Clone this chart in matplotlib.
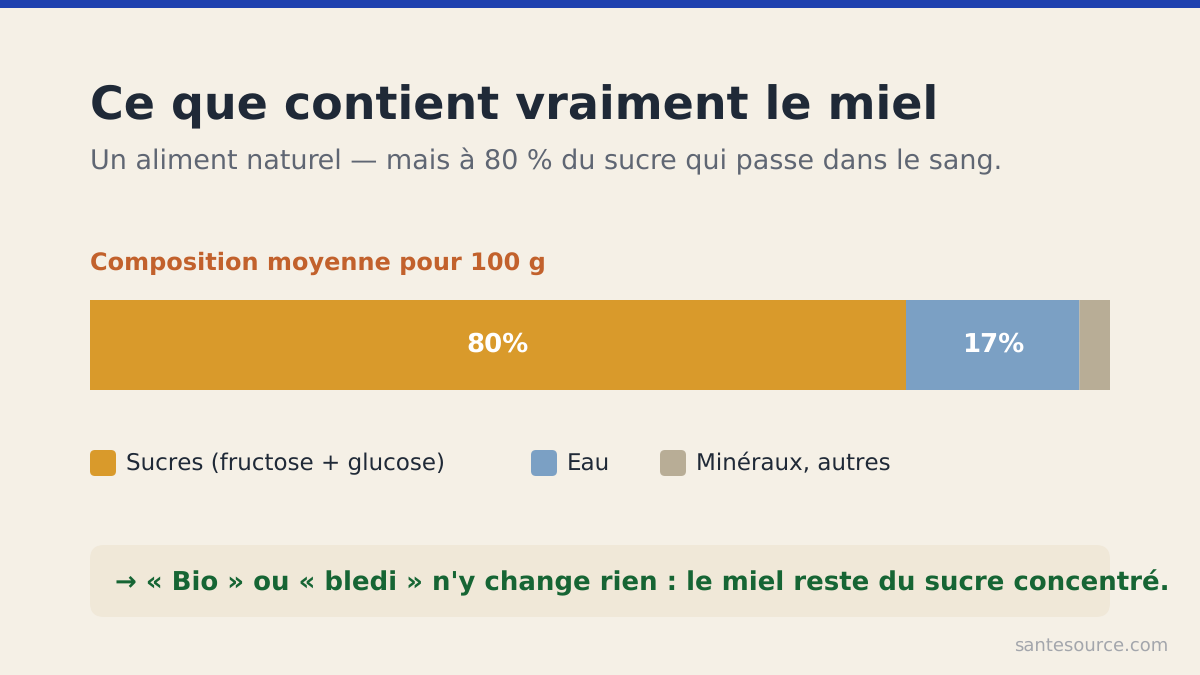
import matplotlib
matplotlib.use("Agg")
import matplotlib.pyplot as plt
from matplotlib.patches import FancyBboxPatch, Rectangle

categories = ["Sucres (fructose + glucose)", "Eau", "Minéraux, autres"]
values = [80, 17, 3]
bar_labels = ["80%", "17%", ""]
colors = ["#D99A2B", "#7BA0C4", "#B8AD96"]
legend_x = [90, 531, 660]

W, H = 1200, 675
plt.rcParams["font.family"] = "DejaVu Sans"
plt.rcParams["text.hinting"] = "no_hinting"
plt.rcParams["text.hinting_factor"] = 1
fig = plt.figure(figsize=(W / 100, H / 100), dpi=100, facecolor="#F5F0E6")

bg = fig.add_axes([0, 0, 1, 1])
bg.set_xlim(0, W)
bg.set_ylim(H, 0)
bg.axis("off")

def px(size):
    return size * 0.72

bg.add_patch(Rectangle((0, 0), W, 8, color="#1E40AF", lw=0))
bg.text(90, 119.5, "Ce que contient vraiment le miel", fontsize=px(46), fontweight="bold",
        color="#1F2937", va="baseline", ha="left")
bg.text(90, 169.5, "Un aliment naturel — mais à 80 % du sucre qui passe dans le sang.",
        fontsize=px(27.02), color="#5F6673", va="baseline", ha="left")
bg.text(90, 270, "Composition moyenne pour 100 g", fontsize=px(24), fontweight="bold",
        color="#C2612C", va="baseline", ha="left")

ax = fig.add_axes([90 / W, 1 - 390 / H, 1020 / W, 90 / H])
ax.set_xlim(0, sum(values))
ax.set_ylim(0, 1)
ax.axis("off")
left = 0
for v, c, lab in zip(values, colors, bar_labels):
    ax.barh(0.5, v, left=left, height=1, color=c, lw=0, snap=False)
    if lab:
        ax.annotate(lab, xy=(left + v / 2, 0.5), xytext=(0, -5.0), textcoords="offset points",
                    color="white", fontsize=px(26), fontweight="bold", ha="center", va="baseline")
    left += v

for x, c, cat in zip(legend_x, colors, categories):
    bg.add_patch(FancyBboxPatch((x, 450), 26, 26, boxstyle="round,pad=0,rounding_size=5",
                                fc=c, lw=0))
    bg.text(x + 36, 470.4, cat, fontsize=px(23.2), color="#1F2937", va="baseline", ha="left")

bg.add_patch(FancyBboxPatch((90, 545), 1020, 72, boxstyle="round,pad=0,rounding_size=14",
                            fc="#F0E8D8", lw=0))
bg.text(115, 590, "→ « Bio » ou « bledi » n'y change rien : le miel reste du sucre concentré.",
        fontsize=px(26), fontweight="bold", color="#166534", va="baseline", ha="left")
bg.text(1168, 651, "santesource.com", fontsize=px(18.05), color="#A3A6AC", va="baseline", ha="right")

fig.savefig("out.png", dpi=100, facecolor=fig.get_facecolor())
